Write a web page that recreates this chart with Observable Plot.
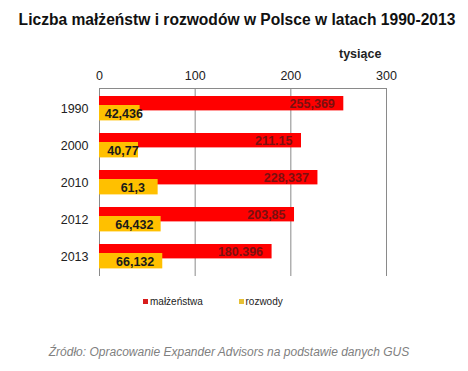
<!DOCTYPE html>
<html>
<head>
<meta charset="utf-8">
<script src="https://cdn.jsdelivr.net/npm/d3@7"></script>
<script src="https://cdn.jsdelivr.net/npm/@observablehq/plot@0.6"></script>
<style>
  html, body { margin: 0; padding: 0; background: #fff; }
  body { width: 468px; height: 371px; position: relative; overflow: hidden; font-family: "Liberation Sans", Arial, sans-serif; }
  #title { position: absolute; left: 0; width: 474px; top: 11px; text-align: center; font-weight: bold; font-size: 15.6px; color: #111; white-space: nowrap; }
  #unit { position: absolute; left: 339px; top: 47px; font-weight: bold; font-size: 12.5px; color: #222; }
  #chart { position: absolute; left: 0; top: 0; }
  #legend { position: absolute; top: 296px; left: 0; width: 468px; font-size: 10px; color: #222; }
  .li { position: absolute; white-space: nowrap; }
  .sw { display: inline-block; width: 5px; height: 5px; margin-right: 2px; vertical-align: 1px; }
  #caption { position: absolute; left: 0; width: 458px; top: 345px; text-align: center; font-style: italic; font-size: 12px; color: #808080; white-space: nowrap; }
</style>
</head>
<body>
<div id="chart"></div>
<div id="title">Liczba małżeństw i rozwodów w Polsce w latach 1990-2013</div>
<div id="unit">tysiące</div>
<div id="legend"></div>
<div id="caption">Źródło: Opracowanie Expander Advisors na podstawie danych GUS</div>
<script>
const years = ["1990", "2000", "2010", "2012", "2013"];
const marriages = [255.369, 211.15, 228.337, 203.85, 180.396];
const divorces = [42.436, 40.77, 61.3, 64.432, 66.132];
const marriageLabels = ["255,369", "211.15", "228,337", "203,85", "180.396"];
const divorceLabels = ["42,436", "40,77", "61,3", "64,432", "66,132"];
const xTicks = [0, 100, 200, 300];
const seriesNames = ["małżeństwa", "rozwody"];
const seriesColors = ["#ff0000", "#ffc000"];
const legendColors = ["#d81c1c", "#e6c035"];

const data = years.map((y, i) => ({
  year: y, m: marriages[i], d: divorces[i], ml: marriageLabels[i], dl: divorceLabels[i]
}));

const plot = Plot.plot({
  width: 468,
  height: 280,
  marginTop: 88,
  marginBottom: 4,
  marginLeft: 99,
  marginRight: 82,
  style: { fontFamily: "Liberation Sans, Arial, sans-serif", fontSize: "12.5px", color: "#222", background: "transparent" },
  x: { domain: [0, 300] },
  y: { domain: years, padding: 0 },
  marks: [
    Plot.ruleX(xTicks, { stroke: "#8a8a8a", strokeWidth: 1 }),
    Plot.frame({ anchor: "top", stroke: "#8a8a8a" }),
    Plot.barX(data, { x: "m", y: "year", fill: seriesColors[0], insetTop: 6, insetBottom: 16.6 }),
    Plot.barX(data, { x: "d", y: "year", fill: seriesColors[1], insetTop: 15, insetBottom: 6.6 }),
    Plot.text(data, { x: "m", y: "year", text: "ml", textAnchor: "end", dx: -9, dy: -5.3, fill: "#7a1010", fontWeight: "bold", fontSize: 12.5 }),
    Plot.text(data, { x: d => d.d / 2, y: "year", text: "dl", dx: 4, dy: 4.5, fill: "#1a1a1a", fontWeight: "bold", fontSize: 12.5 }),
    Plot.axisX(xTicks, { anchor: "top", tickSize: 0, tickPadding: 9, tickFormat: d => String(d), label: null }),
    Plot.axisY({ anchor: "left", tickSize: 0, tickPadding: 11, label: null })
  ]
});
document.getElementById("chart").appendChild(plot);

const legend = document.getElementById("legend");
const legendX = [143, 238.5];
seriesNames.forEach((n, i) => {
  const el = document.createElement("div");
  el.className = "li";
  el.style.left = legendX[i] + "px";
  el.innerHTML = `<span class="sw" style="background:${legendColors[i]}"></span>${n}`;
  legend.appendChild(el);
});
</script>
</body>
</html>
